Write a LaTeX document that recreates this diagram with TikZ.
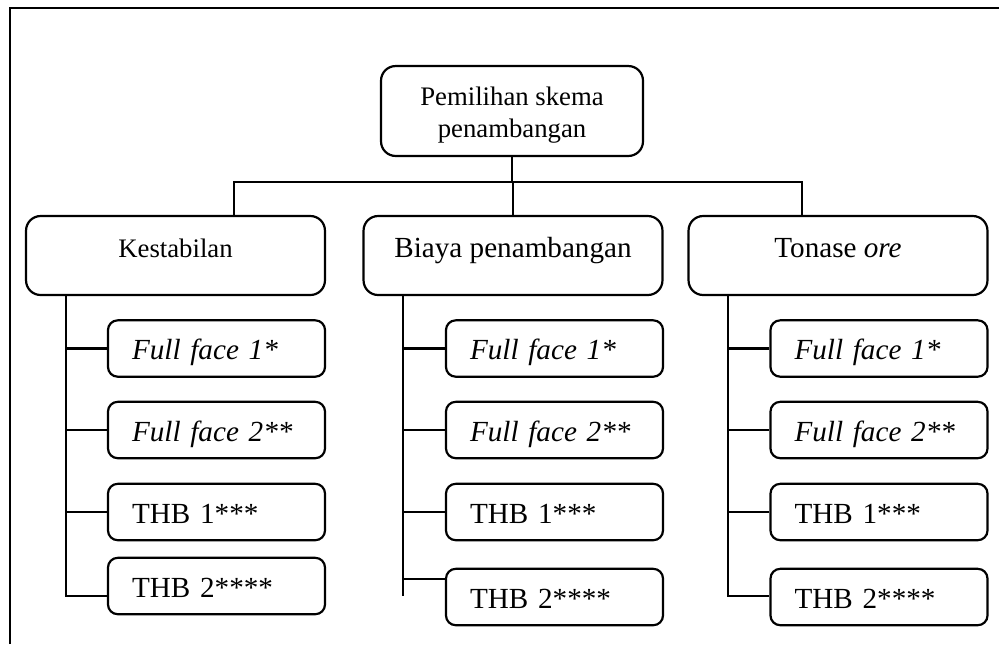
\documentclass[tikz,border=0pt]{standalone}
\usepackage{fontspec}
\setmainfont{Liberation Serif}
\tikzset{
	topbox/.style={draw, rounded corners=6pt, line width=0.9pt, minimum width=107.8pt, inner ysep=0pt, text height=29.2pt, text depth=7.8pt, align=center, font=\fontsize{11}{12.8}\selectfont},
	critbox/.style={draw, rounded corners=6pt, line width=0.9pt, minimum width=123pt, inner ysep=0pt, text height=16.9pt, text depth=15.6pt, font=\fontsize{12}{14}\selectfont},
	altbox/.style={draw, rounded corners=4pt, line width=0.9pt, minimum width=89.3pt, minimum height=23.2pt, inner xsep=9.9pt, inner ysep=2pt, text width=69.5pt, align=left, text height=12pt, text depth=2.6pt, font=\fontsize{12}{14}\selectfont},
	link/.style={line width=0.9pt}
}
\begin{document}
\begin{tikzpicture}[x=0.4115pt, y=-0.4115pt]
				\useasboundingbox (0,0) rectangle (999,644);
				% Frame
				\draw[line width=1.2pt] (10,644) -- (10,8) -- (999,8);

				% Root
				\node[topbox] (root) at (512,111) {Pemilihan skema\\penambangan};

				% Criteria
				\node[critbox, font=\fontsize{11}{13}\selectfont] (stab) at (175.5,255.5) {Kestabilan};
				\node[critbox] (cost) at (513,255.5) {Biaya penambangan};
				\node[critbox] (tonn) at (838,255.5) {Tonase \textit{ore}};
				\coordinate (busL) at (234,182);
				\coordinate (busR) at (802,182);
				\draw[link] (root.south) -- (root.south |- busL);
				\draw[link] (stab.north -| busL) -- (busL) -- (busR) -- (busR |- tonn.north);
				\draw[link] (cost.north) -- (cost.north |- busL);

				% Kestabilan
				\node[altbox] (stab1) at (216.5,348.5) {\textit{Full face 1*}};
				\node[altbox] (stab2) at (216.5,430) {\textit{Full face 2**}};
				\node[altbox] (stab3) at (216.5,512) {THB 1***};
				\node[altbox] (stab4) at (216.5,586) {THB 2****};
				\coordinate (stabend) at (66,596);
				\draw[link] (stabend |- stab.south) -- (stabend) -- (stabend -| stab4.west);
				\draw[link] (stabend |- stab1.west) -- (stab1.west);
				\draw[link] (stabend |- stab2.west) -- (stab2.west);
				\draw[link] (stabend |- stab3.west) -- (stab3.west);

				% Biaya penambangan
				\node[altbox] (cost1) at (554.5,348.5) {\textit{Full face 1*}};
				\node[altbox] (cost2) at (554.5,430) {\textit{Full face 2**}};
				\node[altbox] (cost3) at (554.5,512) {THB 1***};
				\node[altbox] (cost4) at (554.5,597) {THB 2****};
				\coordinate (costend) at (403,596);
				\coordinate (costfork) at (403,579);
				\draw[link] (costend |- cost.south) -- (costend);
				\draw[link] (costfork) -- (costfork -| cost4.west);
				\draw[link] (costend |- cost1.west) -- (cost1.west);
				\draw[link] (costend |- cost2.west) -- (cost2.west);
				\draw[link] (costend |- cost3.west) -- (cost3.west);

				% Tonase ore
				\node[altbox] (tonn1) at (879,348.5) {\textit{Full face 1*}};
				\node[altbox] (tonn2) at (879,430) {\textit{Full face 2**}};
				\node[altbox] (tonn3) at (879,512) {THB 1***};
				\node[altbox] (tonn4) at (879,597) {THB 2****};
				\coordinate (tonnend) at (728,596);
				\draw[link] (tonnend |- tonn.south) -- (tonnend) -- (tonnend -| tonn4.west);
				\draw[link] (tonnend |- tonn1.west) -- (tonn1.west);
				\draw[link] (tonnend |- tonn2.west) -- (tonn2.west);
				\draw[link] (tonnend |- tonn3.west) -- (tonn3.west);
			\end{tikzpicture}
\end{document}
